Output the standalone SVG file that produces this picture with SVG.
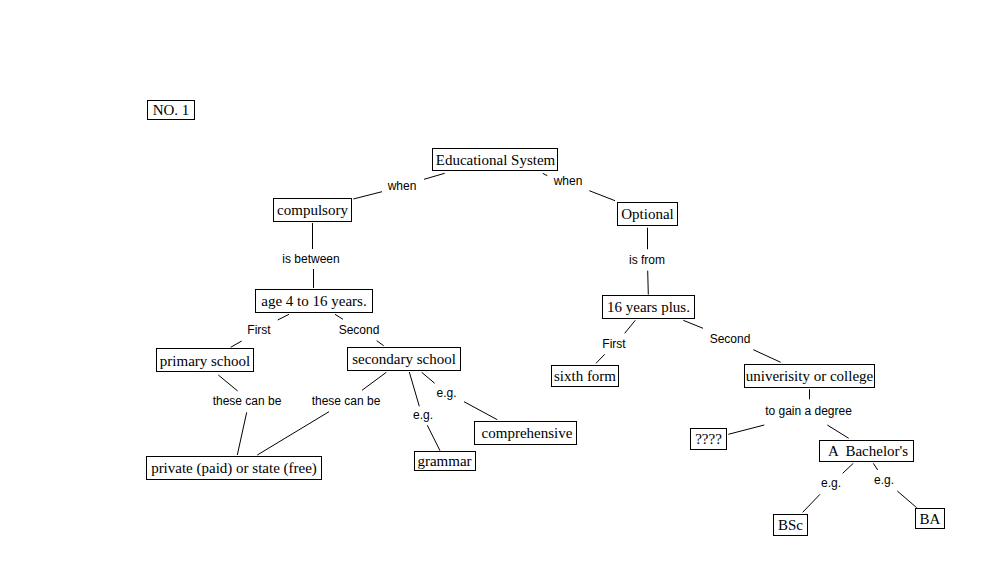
<svg xmlns="http://www.w3.org/2000/svg" width="985" height="576" viewBox="0 0 985 576">
<style>
.n rect{fill:#fff;stroke:#000;stroke-width:1}
.n text{font-family:"Liberation Serif","Times New Roman",serif;font-size:15px;fill:#000;text-anchor:middle}
#edges line{stroke:#000;stroke-width:1}
#edges text{font-family:"Liberation Sans",Arial,sans-serif;font-size:12px;fill:#000;text-anchor:middle}
</style>
<rect width="985" height="576" fill="#fff"/>
<g id="edges">
<line x1="444.7" y1="173.3" x2="424" y2="179.3"/>
<text x="402" y="189.5">when</text>
<line x1="382" y1="191.7" x2="353.3" y2="199"/>
<line x1="542.7" y1="173.3" x2="547.3" y2="175.7"/>
<text x="568" y="185">when</text>
<line x1="589.3" y1="190.7" x2="615" y2="200.7"/>
<line x1="312.5" y1="223" x2="312.5" y2="249"/>
<text x="311" y="263.3">is between</text>
<line x1="313.5" y1="269" x2="313.5" y2="288"/>
<line x1="289" y1="314.3" x2="277.7" y2="320"/>
<text x="259" y="334.3">First</text>
<line x1="241.7" y1="341" x2="230.7" y2="347.3"/>
<line x1="335" y1="314.3" x2="343" y2="319.3"/>
<text x="359" y="334.3">Second</text>
<line x1="376.7" y1="340.7" x2="383.7" y2="345.7"/>
<line x1="218.3" y1="375" x2="237.7" y2="391"/>
<text x="247" y="405.3">these can be</text>
<line x1="246.7" y1="412.3" x2="237.3" y2="455"/>
<line x1="386.3" y1="372.3" x2="362" y2="390.3"/>
<text x="346" y="405.3">these can be</text>
<line x1="329" y1="411.7" x2="257.3" y2="455"/>
<line x1="409.3" y1="372" x2="419.3" y2="406.3"/>
<text x="423" y="418.6">e.g.</text>
<line x1="427.3" y1="425.3" x2="440" y2="450.7"/>
<line x1="421.7" y1="372.3" x2="434.7" y2="383.3"/>
<text x="446.5" y="397">e.g.</text>
<line x1="464" y1="401.7" x2="497.3" y2="419.7"/>
<line x1="647.5" y1="227.7" x2="647.5" y2="249.3"/>
<text x="647" y="263.6">is from</text>
<line x1="647.7" y1="270.7" x2="648.3" y2="294.5"/>
<line x1="635.3" y1="320.3" x2="624.7" y2="333.3"/>
<text x="614" y="347.6">First</text>
<line x1="604.7" y1="354.3" x2="596" y2="363.3"/>
<line x1="683.3" y1="320.3" x2="703" y2="328.3"/>
<text x="730" y="343">Second</text>
<line x1="753.3" y1="349.7" x2="780.7" y2="362.3"/>
<line x1="809.5" y1="389.3" x2="809.5" y2="399.3"/>
<text x="808.5" y="415">to gain a degree</text>
<line x1="764.3" y1="425" x2="728.3" y2="434.3"/>
<line x1="827.3" y1="425" x2="848.7" y2="438.3"/>
<line x1="853.3" y1="463.3" x2="842.7" y2="473.3"/>
<text x="831" y="486.6">e.g.</text>
<line x1="820" y1="494.3" x2="802.7" y2="512.3"/>
<line x1="873.3" y1="463.3" x2="877.7" y2="470"/>
<text x="884" y="483.6">e.g.</text>
<line x1="897.3" y1="491" x2="916.7" y2="507.7"/>
</g>
<g id="no1" class="n"><rect x="147.5" y="100.5" width="47" height="19"/><text x="171" y="115">NO. 1</text></g>
<g id="educational-system" class="n"><rect x="432.5" y="148.5" width="125" height="22"/><text x="495.5" y="164.5">Educational System</text></g>
<g id="compulsory" class="n"><rect x="273.5" y="198.5" width="78" height="23"/><text x="312.5" y="215">compulsory</text></g>
<g id="age" class="n"><rect x="255.5" y="289.5" width="117" height="23"/><text x="314" y="306">age 4 to 16 years.</text></g>
<g id="primary-school" class="n"><rect x="156.5" y="348.5" width="97" height="23"/><text x="205" y="365.5">primary school</text></g>
<g id="secondary-school" class="n"><rect x="347.5" y="347.5" width="113" height="23"/><text x="404" y="364">secondary school</text></g>
<g id="private-state" class="n"><rect x="146.5" y="456.5" width="175" height="23"/><text x="234" y="473">private (paid) or state (free)</text></g>
<g id="grammar" class="n"><rect x="414.5" y="451.5" width="61" height="19"/><text x="444.5" y="465.5">grammar</text></g>
<g id="comprehensive" class="n"><rect x="474.5" y="421.5" width="102" height="23"/><text x="527" y="437.5">comprehensive</text></g>
<g id="optional" class="n"><rect x="617.5" y="202.5" width="60" height="23"/><text x="647.5" y="219">Optional</text></g>
<g id="sixteen-plus" class="n"><rect x="602.5" y="295.5" width="92" height="23"/><text x="648.5" y="311.5">16 years plus.</text></g>
<g id="sixth-form" class="n"><rect x="551.5" y="365.5" width="67" height="21"/><text x="585" y="381">sixth form</text></g>
<g id="university" class="n"><rect x="744.5" y="364.5" width="130" height="23"/><text x="809.5" y="380.5">univerisity or college</text></g>
<g id="unknown" class="n"><rect x="690.5" y="428.5" width="36" height="21"/><text x="708.5" y="443.5">????</text></g>
<g id="bachelors" class="n"><rect x="819.5" y="440.5" width="94" height="21"/><text x="868" y="455.5" xml:space="preserve">A  Bachelor's</text></g>
<g id="bsc" class="n"><rect x="773.5" y="514.5" width="34" height="21"/><text x="790.5" y="530">BSc</text></g>
<g id="ba" class="n"><rect x="915.5" y="508.5" width="29" height="20"/><text x="930" y="523.5">BA</text></g>
</svg>
